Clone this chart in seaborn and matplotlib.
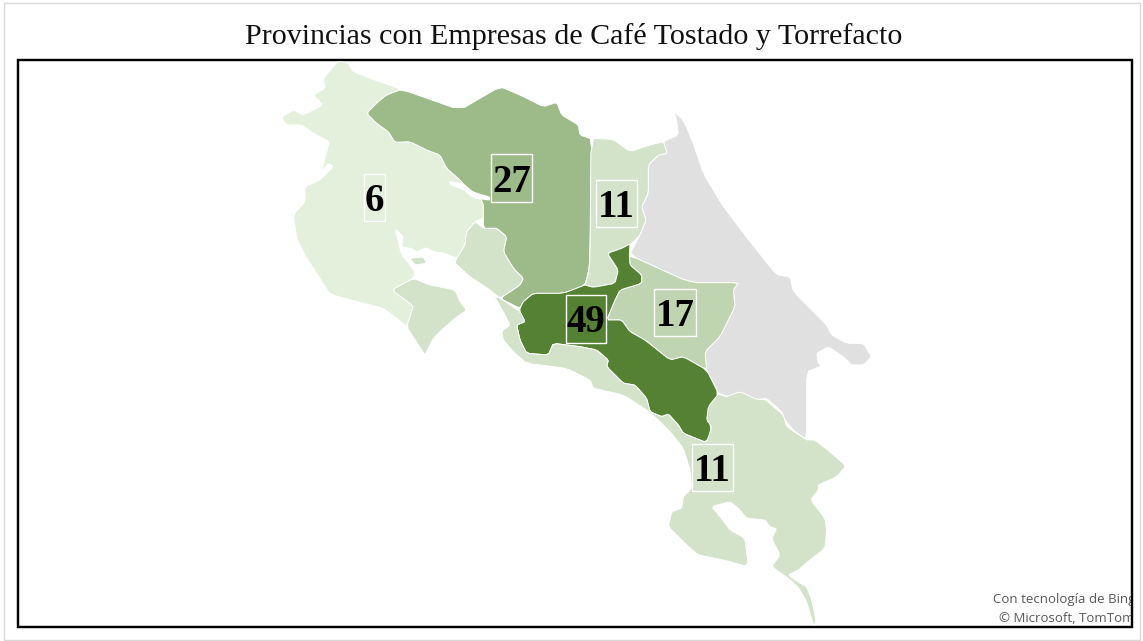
import matplotlib
matplotlib.use("Agg")
import matplotlib.pyplot as plt
from matplotlib.colors import Normalize
from matplotlib.patches import Rectangle
import seaborn as sns

TITLE = "Provincias con Empresas de Café Tostado y Torrefacto"
provinces = ["Guanacaste", "Alajuela", "Heredia", "Cartago", "San José", "Puntarenas"]
company_counts = [6, 27, 11, 17, 49, 11]
credit_lines = ["Con tecnología de Bing", "© Microsoft, TomTom"]

def z1(pts): return [(270 + x / 3, 55 + y / 3) for x, y in pts]
def z2(pts): return [(580 + x / 3, 100 + y / 3) for x, y in pts]
def z3(pts): return [(490 + x / 3, 300 + y / 3) for x, y in pts]

def soften(pts, cut=0.12):
    """Round the corners of a traced outline slightly."""
    out = []
    for (x0, y0), (x1, y1) in zip(pts, pts[1:] + pts[:1]):
        out.append((x0 + (x1 - x0) * cut, y0 + (y1 - y0) * cut))
        out.append((x1 - (x1 - x0) * cut, y1 - (y1 - y0) * cut))
    return out

guanacaste = [z1([(205,18),(235,25),(250,50),(300,70),(395,103),(350,120),(325,140),(290,175),(320,205),
    (355,230),(375,262),(420,260),(470,285),(510,300),(530,340),(570,375),(600,410),(640,440),(640,490),
    (615,500),(590,530),(585,570),(560,610),(525,595),(490,590),(470,578),(440,590),(420,580),(395,575),
    (400,545),(375,520),(395,600),(420,630),(435,650),(430,670),(365,705),(420,745),(430,755),(410,815),
    (380,790),(340,760),(280,745),(180,718),(150,670),(110,610),(80,550),(70,480),(105,440),(105,395),
    (150,375),(190,335),(175,325),(155,350),(170,290),(178,260),(130,235),(95,210),(50,210),(35,187),
    (70,165),(100,180),(160,150),(130,120),(165,100),(160,70)])]
alajuela = [z1([(395,103),(570,165),(690,95),(750,120),(820,155),(860,142),(875,180),(925,210),(930,240),
    (965,252),(962,500),(958,640),(945,690),(880,715),(790,715),(760,740),(750,760),(690,730),(750,690),
    (760,670),(730,640),(700,590),(710,545),(680,520),(640,520),(640,440),(600,410),(570,375),(530,340),
    (510,300),(470,285),(420,260),(375,262),(355,230),(320,205),(290,175),(325,140),(350,120)])]
heredia = [z2([(33,115),(100,118),(150,155),(210,135),(250,125),(262,160),(235,165),(205,195),(205,280),
    (185,320),(198,360),(180,405),(150,435),(125,445),(82,460),(115,510),(105,550),(40,562),(15,555),
    (25,520),(30,480)])]
cartago = [z2([(148,465),(330,548),(475,548),(460,570),(465,620),(420,710),(375,755),(380,810),(310,770),
    (270,780),(195,720),(150,695),(125,660),(80,660),(105,600),(120,570),(185,550),(185,525),(150,495)])]
san_jose = [z2([(150,432),(148,465),(150,495),(185,525),(185,550),(120,570),(105,600),(80,660),(125,660),
    (150,695),(195,720),(270,780),(310,770),(380,810),(415,880),(385,945),(395,1000),(375,1028)])
    + z3([(650,428),(580,400),(565,375),(535,342),(515,350),(480,335),(470,295),(435,255),(400,250),
    (350,200),(355,180),(320,150),(270,140),(190,130),(175,165),(110,160),(90,120),(80,75),(105,65),(90,35)])
    + z1([(750,760),(760,740),(790,715),(880,715),(945,690)])
    + z2([(15,555),(40,562),(105,550),(115,510),(82,460),(125,445)])]
puntarenas = [
    z1([(365,705),(430,670),(480,690),(555,705),(570,740),(590,765),(555,790),(515,825),(490,850),(465,900),
        (445,870),(410,815),(430,755),(420,745)]),
    z1([(615,500),(640,520),(680,520),(710,545),(700,590),(730,640),(760,670),(750,690),(690,730),(660,705),
        (600,665),(555,625),(560,610),(585,570),(590,530)]),
    z1([(420,610),(460,605),(470,625),(435,630)]),
    z3([(685,282),(710,290),(750,275),(800,298),(825,298),(880,345),(890,380),(950,420),(975,420),(1025,460),
        (1068,498),(1040,530),(985,555),(985,570),(962,600),(1005,655),(1010,690),(1005,745),(960,780),
        (925,810),(895,825),(925,846),(950,860),(965,900),(978,960),(972,980),(950,905),(925,862),(895,835),
        (845,800),(870,765),(845,715),(860,687),(840,680),(825,660),(770,655),(745,625),(720,605),(665,620),
        (690,650),(720,690),(765,715),(775,800),(700,780),(625,765),(590,735),(535,680),(545,635),(575,625),
        (580,590),(605,565),(600,510),(580,445),(540,395),(505,360),(470,330),(400,285),(310,265),(300,240),
        (230,205),(110,190),(70,155),(40,120),(35,95),(60,75),(45,45),(20,0),(10,-10),(30,-6),(90,35),(105,65),
        (80,75),(90,120),(110,160),(175,165),(190,130),(270,140),(320,150),(355,180),(350,200),(400,250),
        (435,255),(470,295),(480,335),(515,350),(535,342),(565,375),(580,400),(650,428),(665,380),(650,360),
        (655,320)]),
]
limon = [z2([(282,35),(310,60),(340,130),(370,220),(430,320),(510,425),(590,525),(630,530),(640,575),
    (740,675),(755,705),(800,730),(850,730),(875,770),(850,795),(815,795),(790,770),(745,740),(710,760),
    (715,790),(725,798),(680,815),(680,1020),(640,990),(615,960),(605,935),(560,895),(520,900),(480,875),
    (445,890),(415,880),(380,810),(375,755),(420,710),(465,620),(460,570),(475,548),(330,548),(148,465),
    (180,405),(198,360),(185,320),(205,280),(205,195),(235,165),(262,160),(250,125),(295,105),(290,60)])]
lake_arenal = z1([(535,378),(580,385),(610,410),(660,425),(660,437),(610,430),(580,405),(540,390)])

outlines = [guanacaste, alajuela, heredia, cartago, san_jose, puntarenas]
label_boxes = [(364, 174, 21, 47), (491, 154, 41, 48), (596, 180, 41, 47),
               (654, 289, 42, 47), (566, 295, 40, 48), (692, 444, 41, 47)]

sns.set_theme(style="white")
cmap = sns.blend_palette(["#e3f0dc", "#548232"], as_cmap=True)
norm = Normalize(min(company_counts), max(company_counts))

fig = plt.figure(figsize=(11.43, 6.41), dpi=100, facecolor="white")
ax = fig.add_axes([0, 0, 1, 1])
ax.set_xlim(0, 1143)
ax.set_ylim(641, 0)
ax.axis("off")

ax.add_patch(Rectangle((4, 3), 1136, 637, fill=False, ec="#d9d9d9", lw=1))
frame = Rectangle((17.5, 60), 1114, 567, fc="white", ec="black", lw=1.6, zorder=1)
ax.add_patch(frame)

for part in limon:
    ax.fill(*zip(*soften(part)), fc="#e0e0e0", ec="white", lw=0.7, zorder=2)
for name, value, parts in zip(provinces, company_counts, outlines):
    for part in parts:
        ax.fill(*zip(*soften(part)), fc=cmap(norm(value)), ec="white", lw=0.7, zorder=3, label=name)
ax.fill(*zip(*soften(lake_arenal)), fc="white", ec="none", zorder=4)

for value, (x, y, w, h) in zip(company_counts, label_boxes):
    ax.add_patch(Rectangle((x, y), w, h, fill=False, ec="white", lw=1, zorder=5))
    ax.text(x + w / 2, y + h / 2 + 4, str(value), ha="center", va="center", fontsize=28,
            fontweight="bold", family="Liberation Serif", color="black", zorder=6)

ax.text(573.5, 37, TITLE, ha="center", va="center", fontsize=21.6, family="Liberation Serif", color="#111111")

for line, ypos, xpos in zip(credit_lines, [599, 618], [993, 999]):
    t = ax.text(xpos, ypos, line, ha="left", va="center", fontsize=9.5, family="Open Sans",
                color="#595959", zorder=7, clip_on=True)
    t.set_clip_path(frame)
ax.add_patch(Rectangle((17.5, 60), 1114, 567, fill=False, ec="black", lw=1.6, zorder=8))

fig.savefig("out.png", dpi=100, facecolor="white")
